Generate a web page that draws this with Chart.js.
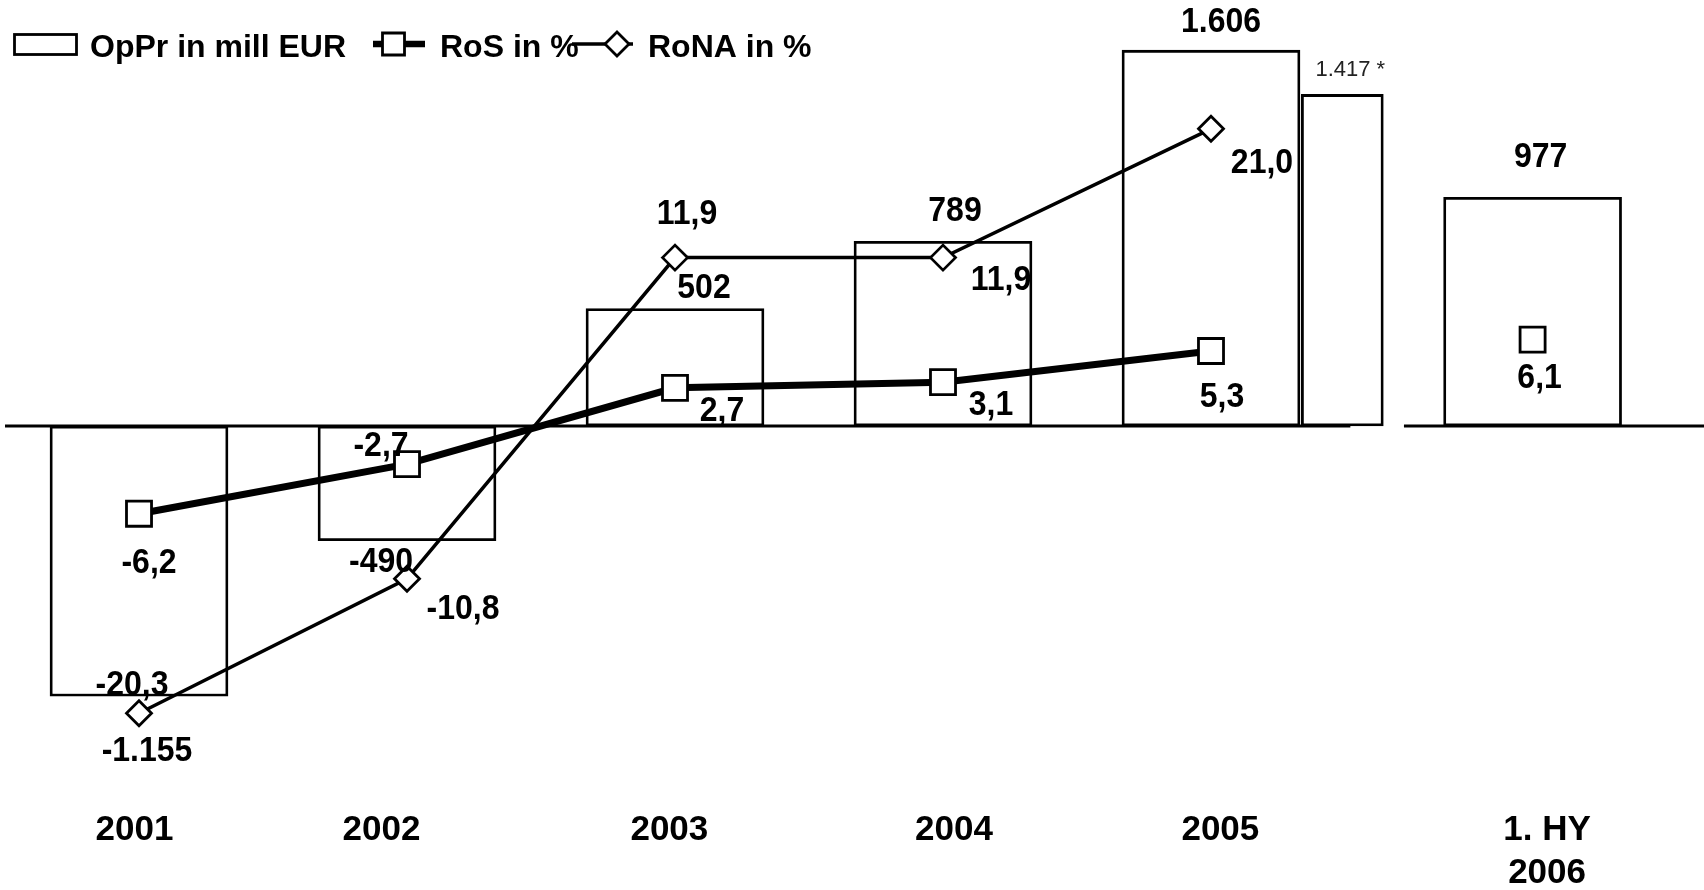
<!DOCTYPE html>
<html>
<head>
<meta charset="utf-8">
<script src="https://cdn.jsdelivr.net/npm/chart.js@4"></script>
<style>
  html, body { margin: 0; padding: 0; background: #fff; }
  #wrap { width: 1704px; height: 890px; position: relative; }
</style>
</head>
<body>
<div id="wrap"><canvas id="c"></canvas></div>
<script>
// ---- Data ----
const categories = ['2001', '2002', '2003', '2004', '2005', ['1. HY', '2006']];
const opPr = [-1155, -490, 502, 789, 1606, 977];      // operating profit, mill EUR
const opPr2005Adj = 1417;                             // 2005 figure marked with *
const ros = [-6.2, -2.7, 2.7, 3.1, 5.3, 6.1];         // return on sales, %
const rona = [-20.3, -10.8, 11.9, 11.9, 21.0];        // return on net assets, %

// ---- Layout ----
const slot = [0, 1, 2, 3, 4, 5.2];   // x slot of each period; the half-year stands apart
const tickSlot = [-0.017, 0.905, 1.979, 3.041, 4.035, 5.254];  // where the period names sit
const adjSlot = 4.49;                // slot of the * bar next to 2005
const baseline = [[-0.5, 4.52], [4.72, null]];  // zero line pieces (x units)
const FONT = '"Liberation Sans", Arial, Helvetica, sans-serif';

// label offsets [dx, dy] in px from each mark (bars: from the bar end)
const offsets = {
  opPr: [[8, 55], [-26, 21], [29, -20], [12, -30], [10, -28], [8, -40]],
  adj: [8, -24],
  ros: [[10, 49], [-26, -18], [47, 23], [48, 23], [11, 46], [7, 38]],
  rona: [[-7, -28], [56, 30], [12, -44], [58, 22], [51, 34]]
};

const fmtInt = v => (v < 0 ? '-' : '') + String(Math.abs(v)).replace(/\B(?=(\d{3})+(?!\d))/g, '.');
const fmtPct = v => v.toFixed(1).replace('.', ',');

function text(ctx, s, x, y) {
  ctx.save();
  ctx.translate(x, y);
  ctx.scale(1, 1.12);
  ctx.fillText(s, 0, 0);
  ctx.restore();
}

function square(ctx, cx, cy, side, lw) {
  ctx.beginPath();
  ctx.rect(cx - side / 2, cy - side / 2, side, side);
  ctx.fillStyle = '#fff'; ctx.fill();
  ctx.lineWidth = lw; ctx.strokeStyle = '#000'; ctx.stroke();
}
function diamond(ctx, cx, cy, r, lw) {
  ctx.beginPath();
  ctx.moveTo(cx, cy - r); ctx.lineTo(cx + r, cy); ctx.lineTo(cx, cy + r); ctx.lineTo(cx - r, cy);
  ctx.closePath();
  ctx.fillStyle = '#fff'; ctx.fill();
  ctx.lineWidth = lw; ctx.strokeStyle = '#000'; ctx.stroke();
}

const decor = {
  id: 'decor',
  beforeDatasetsDraw(chart) {
    const { ctx, scales: { x, yBar } } = chart;
    const y0 = yBar.getPixelForValue(0);
    ctx.save();
    ctx.strokeStyle = '#000';
    ctx.lineWidth = 3;
    for (const [a, b] of baseline) {
      ctx.beginPath();
      ctx.moveTo(x.getPixelForValue(a), y0);
      ctx.lineTo(x.getPixelForValue(b === null ? x.max : b), y0);
      ctx.stroke();
    }
    ctx.restore();
  },
  afterDatasetsDraw(chart) {
    const { ctx } = chart;
    ctx.save();
    ctx.fillStyle = '#000';
    ctx.textAlign = 'center';
    ctx.textBaseline = 'middle';
    ctx.font = 'bold 32px ' + FONT;

    chart.getDatasetMeta(0).data.forEach((el, i) => {
      const [dx, dy] = offsets.opPr[i];
      text(ctx, fmtInt(opPr[i]), el.x + dx, el.y + dy);
    });
    chart.getDatasetMeta(2).data.forEach((el, i) => {
      const [dx, dy] = offsets.ros[i];
      text(ctx, fmtPct(ros[i]), el.x + dx, el.y + dy);
    });
    chart.getDatasetMeta(3).data.forEach((el, i) => {
      const [dx, dy] = offsets.rona[i];
      text(ctx, fmtPct(rona[i]), el.x + dx, el.y + dy);
    });

    // the * figure is set in a light face
    const adj = chart.getDatasetMeta(1).data[0];
    ctx.font = '22px ' + FONT;
    ctx.fillStyle = '#222';
    ctx.fillText(fmtInt(opPr2005Adj) + ' *', adj.x + offsets.adj[0], adj.y + offsets.adj[1]);
    ctx.restore();
  },
  afterDraw(chart) {
    const { ctx } = chart;
    const ds = chart.data.datasets;
    ctx.save();
    ctx.fillStyle = '#000';
    ctx.strokeStyle = '#000';
    ctx.font = 'bold 32px ' + FONT;
    ctx.textAlign = 'left';
    ctx.textBaseline = 'alphabetic';
    const cy = 44;

    // bar key
    ctx.lineWidth = 2.8;
    ctx.strokeRect(14.5, 34.5, 62, 20);
    ctx.fillText(ds[0].label, 90, 57);

    // RoS key
    ctx.lineWidth = 6.5;
    ctx.beginPath(); ctx.moveTo(373, cy); ctx.lineTo(425, cy); ctx.stroke();
    square(ctx, 393.5, cy, 22, 2.8);
    ctx.fillStyle = '#000';
    ctx.fillText(ds[2].label, 440, 57);

    // RoNA key
    ctx.lineWidth = 3.5;
    ctx.beginPath(); ctx.moveTo(572, cy); ctx.lineTo(633, cy); ctx.stroke();
    diamond(ctx, 617, cy, 12, 2.8);
    ctx.fillStyle = '#000';
    ctx.fillText(ds[3].label, 648, 57);
    ctx.restore();
  }
};

new Chart(document.getElementById('c'), {
  type: 'bar',
  data: {
    datasets: [
      {
        type: 'bar',
        label: 'OpPr in mill EUR',
        data: opPr.map((v, i) => ({ x: slot[i], y: v })),
        yAxisID: 'yBar',
        backgroundColor: '#fff',
        borderColor: '#000',
        borderWidth: 2.8,
        borderSkipped: false,
        barThickness: 178,
        grouped: false,
        order: 3
      },
      {
        type: 'bar',
        label: 'OpPr 2005 *',
        data: [{ x: adjSlot, y: opPr2005Adj }],
        yAxisID: 'yBar',
        backgroundColor: '#fff',
        borderColor: '#000',
        borderWidth: 2.8,
        borderSkipped: false,
        barThickness: 82,
        grouped: false,
        order: 3
      },
      {
        type: 'line',
        label: 'RoS in %',
        data: ros.map((v, i) => ({ x: slot[i], y: v })),
        yAxisID: 'yPct',
        borderColor: '#000',
        borderWidth: 7,
        tension: 0,
        pointStyle: 'rect',
        pointRadius: 17.7,
        pointBackgroundColor: '#fff',
        pointBorderColor: '#000',
        pointBorderWidth: 2.8,
        segment: {
          // the half-year value is not joined to the annual series
          borderColor: c => (c.p1DataIndex === slot.length - 1 ? 'rgba(0,0,0,0)' : '#000')
        },
        order: 1
      },
      {
        type: 'line',
        label: 'RoNA in %',
        data: rona.map((v, i) => ({ x: slot[i], y: v })),
        yAxisID: 'yPct',
        borderColor: '#000',
        borderWidth: 3.5,
        tension: 0,
        pointStyle: 'rectRot',
        pointRadius: 12.5,
        pointBackgroundColor: '#fff',
        pointBorderColor: '#000',
        pointBorderWidth: 2.8,
        order: 2
      }
    ]
  },
  options: {
    responsive: true,
    maintainAspectRatio: false,
    animation: false,
    layout: { padding: 0, autoPadding: false },
    plugins: {
      legend: { display: false },
      tooltip: { enabled: false }
    },
    scales: {
      x: {
        type: 'linear',
        min: -0.5187,
        max: 5.8396,
        offset: false,
        grid: { display: false, drawTicks: false },
        border: { display: false },
        afterBuildTicks: s => { s.ticks = tickSlot.map(v => ({ value: v })); },
        afterFit: s => { s.height = 90; },
        ticks: {
          autoSkip: false,
          maxRotation: 0,
          padding: 8,
          color: '#000',
          font: { family: FONT, size: 35, weight: 'bold', lineHeight: 1.25 },
          callback: (v, i) => categories[i]
        }
      },
      yBar: {
        type: 'linear',
        display: false,
        min: -1598.3,
        max: 1820.5
      },
      yPct: {
        type: 'linear',
        display: false,
        min: -26.431,
        max: 30.106
      }
    }
  },
  plugins: [decor]
});
</script>
</body>
</html>
